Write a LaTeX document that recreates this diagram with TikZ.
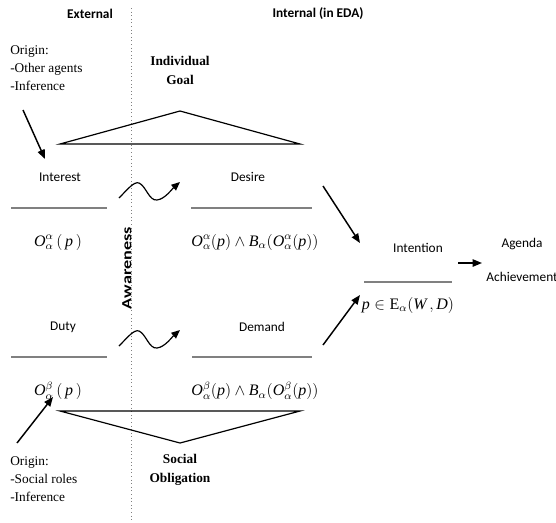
\documentclass[tikz,border=0pt]{standalone}
\usepackage{fontspec}
\setmainfont{Liberation Serif}
\newfontfamily\calib{Carlito}
\usetikzlibrary{arrows.meta}
\begin{document}
\begin{tikzpicture}[x=0.75pt,y=-0.75pt,
  lab/.style={font=\calib\fontsize{10}{12}\selectfont, inner sep=0pt},
  head/.style={font=\calib\bfseries\fontsize{10}{12}\selectfont, inner sep=0pt},
  orig/.style={font=\fontsize{10}{13.5}\selectfont, align=left, inner sep=0pt, anchor=west},
  boldlab/.style={font=\bfseries\fontsize{10}{14.25}\selectfont, align=center, inner sep=0pt},
  frm/.style={font=\fontsize{12}{14}\selectfont, inner sep=0pt},
  bar/.style={draw=gray, line width=1.2pt},
  tri/.style={draw=black, line width=0.9pt, line join=miter},
  arr/.style={draw=black, line width=1.1pt, -{Triangle[length=7pt,width=5.5pt]}},
  sq/.style={draw=black, line width=0.9pt, -{Triangle[length=6.5pt,width=5.5pt]}},
  sep/.style={draw=gray, dotted, line width=0.7pt}
  ]
\useasboundingbox (0,0) rectangle (556,522);

% separator
\coordinate (s1) at (131,8);
\coordinate (s2) at (131,522);
\draw[sep] (s1) -- (s2);

% headings
\node[head] (ext) at (90,14) {External};
\node[head] (int) at (318,14) {Internal (in EDA)};

% origin blocks
\node[orig] (orig1) at (10,68) {Origin:\\-Other agents\\-Inference};
\node[orig] (orig2) at (10,479) {Origin:\\-Social roles\\-Inference};

\node[boldlab] (goal) at (180,70) {Individual\\Goal};
\node[boldlab] (oblig) at (180,470) {Social\\Obligation};

% triangles
\coordinate (t1a) at (60,144);
\coordinate (t1b) at (180,111);
\coordinate (t1c) at (300,144);
\draw[tri] (t1a) -- (t1b) -- (t1c) -- cycle;
\coordinate (t2a) at (60,411);
\coordinate (t2b) at (180,443);
\coordinate (t2c) at (300,411);
\draw[tri] (t2a) -- (t2b) -- (t2c) -- cycle;

% labels
\node[lab] (interest) at (60,177) {Interest};
\node[lab] (desire) at (248,177) {Desire};
\node[lab] (duty) at (63,327) {Duty};
\node[lab] (demand) at (262,327) {Demand};
\node[lab] (intention) at (418,248) {Intention};
\node[lab, align=center, font=\calib\fontsize{10}{25.5}\selectfont] (agenda) at (522,260) {Agenda\\Achievement};

% awareness
\node[head, rotate=90] (aware) at (127,268) {\fontsize{10.5}{12}\selectfont\scalebox{1.3}[1]{Awareness}};

% bars
\coordinate (b1a) at (11,208); \coordinate (b1b) at (107,208);
\coordinate (b2a) at (191,208); \coordinate (b2b) at (312,208);
\coordinate (b3a) at (364,282); \coordinate (b3b) at (452,282);
\coordinate (b4a) at (11,357); \coordinate (b4b) at (107,357);
\coordinate (b5a) at (192,357); \coordinate (b5b) at (312,357);
\draw[bar] (b1a) -- (b1b);
\draw[bar] (b2a) -- (b2b);
\draw[bar] (b3a) -- (b3b);
\draw[bar] (b4a) -- (b4b);
\draw[bar] (b5a) -- (b5b);

% formulas
\node[frm] (f1) at (58,242) {$\textit{O}^{\alpha}_{\alpha}\,(\,\textit{p}\,)$};
\node[frm] (f2) at (255,242) {$\textit{O}^{\alpha}_{\alpha}(\textit{p})\wedge \textit{B}_{\alpha}(\textit{O}^{\alpha}_{\alpha}(\textit{p}))$};
\node[frm] (f3) at (408,305) {$\textit{p}\in \textup{E}_{\alpha}(\textit{W}\,, \textit{D})$};
\node[frm] (f4) at (58,391) {$\textit{O}^{\beta}_{\alpha}\,(\,\textit{p}\,)$};
\node[frm] (f5) at (255,391) {$\textit{O}^{\beta}_{\alpha}(\textit{p})\wedge \textit{B}_{\alpha}(\textit{O}^{\beta}_{\alpha}(\textit{p}))$};

% arrows
\coordinate (a1s) at (23,110); \coordinate (a1e) at (45,159);
\coordinate (a2s) at (323,186); \coordinate (a2e) at (360,243);
\coordinate (a3s) at (323,345); \coordinate (a3e) at (360,295);
\coordinate (a4s) at (458,263); \coordinate (a4e) at (482,263);
\coordinate (a5s) at (17,443); \coordinate (a5e) at (53,397);
\draw[arr] (a1s) -- (a1e);
\draw[arr] (a2s) -- (a2e);
\draw[arr] (a3s) -- (a3e);
\draw[arr] (a4s) -- (a4e);
\draw[arr] (a5s) -- (a5e);

% squiggles
\coordinate (q1s) at (119,198); \coordinate (q1e) at (180,182);
\coordinate (q2s) at (119,346); \coordinate (q2e) at (180,330);
\draw[sq] (q1s) .. controls (127,190) and (134,181) .. (139,183)
  .. controls (146,186) and (149,201) .. (157,200)
  .. controls (165,199) and (172,189) .. (q1e);
\draw[sq] (q2s) .. controls (127,338) and (134,329) .. (139,331)
  .. controls (146,334) and (149,349) .. (157,348)
  .. controls (165,347) and (172,337) .. (q2e);
\end{tikzpicture}
\end{document}
